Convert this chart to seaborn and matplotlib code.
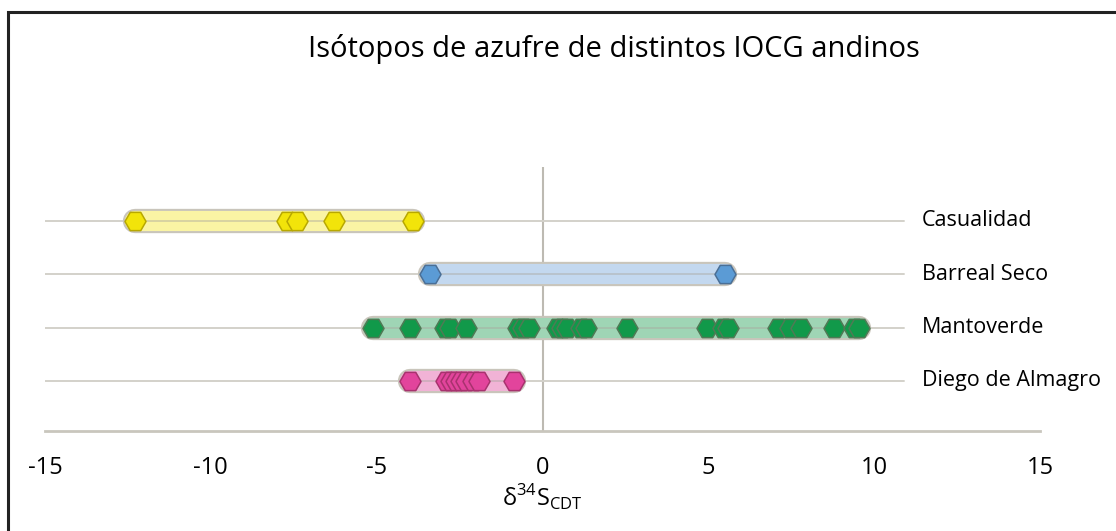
import matplotlib
matplotlib.use("Agg")
import matplotlib.pyplot as plt
import matplotlib.patches as mpatches
import seaborn as sns
import pandas as pd

# deposits, top to bottom
deposits = ["Casualidad", "Barreal Seco", "Mantoverde", "Diego de Almagro"]

casualidad = [-12.3, -7.7, -7.4, -6.3, -3.9]
barreal_seco = [-3.4, 5.5]
mantoverde = [-5.1, -4.0, -2.95, -2.8, -2.3, -0.75, -0.6, -0.4, 0.45, 0.6, 0.75,
              1.15, 1.3, 2.55, 4.95, 5.45, 5.6, 7.1, 7.45, 7.8, 8.8, 9.4, 9.55]
diego_de_almagro = [-4.0, -2.9, -2.75, -2.6, -2.45, -2.3, -2.1, -1.9, -0.85]

x_ticks = [-15, -10, -5, 0, 5, 10, 15]

marker_colors = ["#f2e40a", "#5b9bd5", "#11994a", "#e2449c"]
edge_colors = ["#b8a800", "#4a6f96", "#4f7a55", "#a8326e"]
band_colors = ["#faf4a4", "#c3d8ef", "#9fd5b5", "#f1b3d6"]

values = [casualidad, barreal_seco, mantoverde, diego_de_almagro]
rows = []
for i, (name, vals) in enumerate(zip(deposits, values)):
    for v in vals:
        rows.append({"deposit": name, "d34S": v, "row": len(deposits) - 1 - i})
df = pd.DataFrame(rows)

sns.set_theme(style="white")
plt.rcParams["font.family"] = ["Open Sans", "DejaVu Sans"]
plt.rcParams["text.color"] = "black"
plt.rcParams["axes.labelcolor"] = "black"
plt.rcParams["xtick.color"] = "black"

fig = plt.figure(figsize=(11.16, 5.31), dpi=100)
ax = fig.add_axes([45 / 1116, (531 - 431) / 531, (1040 - 45) / 1116, (431 - 167) / 531])

# frame around the figure (cropped at right/bottom)
fig.patches.append(mpatches.Rectangle((8 / 1116, -0.1), 1.2, (531 - 12) / 531 + 0.1,
                                      transform=fig.transFigure, fill=False,
                                      edgecolor="#222222", linewidth=2.2, zorder=10))

ax.axvline(0, color="#bdbab2", lw=1.5, zorder=1)

for i, name in enumerate(deposits):
    y = len(deposits) - 1 - i
    vals = values[i]
    lo, hi = min(vals), max(vals)
    ax.plot([-15, 10.9], [y, y], color="#d3d1ca", lw=1.4, zorder=1)
    ax.plot([lo, hi], [y, y], color="#c9c5bb", lw=17.5, solid_capstyle="round", zorder=2)
    ax.plot([lo, hi], [y, y], color=band_colors[i], lw=14.5, solid_capstyle="round", zorder=3)
    ax.plot([lo, hi], [y, y], color="#a9a79f", lw=1.2, alpha=0.5, zorder=4)
    ax.text(11.43, y, name, va="center", ha="left", fontsize=15.5, color="black", clip_on=False)

for i, name in enumerate(deposits):
    sub = df[df["deposit"] == name]
    sns.scatterplot(data=sub, x="d34S", y="row", marker="H", s=230,
                    color=marker_colors[i], edgecolor=edge_colors[i], linewidth=1.1,
                    ax=ax, zorder=5, legend=False)

ax.set_xlim(-15, 15)
ax.set_ylim(-0.94, 4.01)
ax.set_xticks(x_ticks)
ax.set_xticklabels([str(t) for t in x_ticks], fontsize=17)
ax.set_yticks([])
ax.set_ylabel("")
ax.set_xlabel(r"δ$^{\mathregular{34}}$S$_{\mathregular{CDT}}$", fontsize=17, labelpad=2)
for side in ["top", "right", "left"]:
    ax.spines[side].set_visible(False)
ax.spines["bottom"].set_color("#c9c6bd")
ax.spines["bottom"].set_linewidth(2)
ax.tick_params(axis="x", direction="out", length=8, width=1.5, color="#c9c6bd",
               labelcolor="black", pad=10)
ax.patch.set_alpha(0)

fig.text(614 / 1116, 1 - 49 / 531, "Isótopos de azufre de distintos IOCG andinos",
         ha="center", va="center", fontsize=21, color="black")

fig.savefig("out.png", dpi=100)
